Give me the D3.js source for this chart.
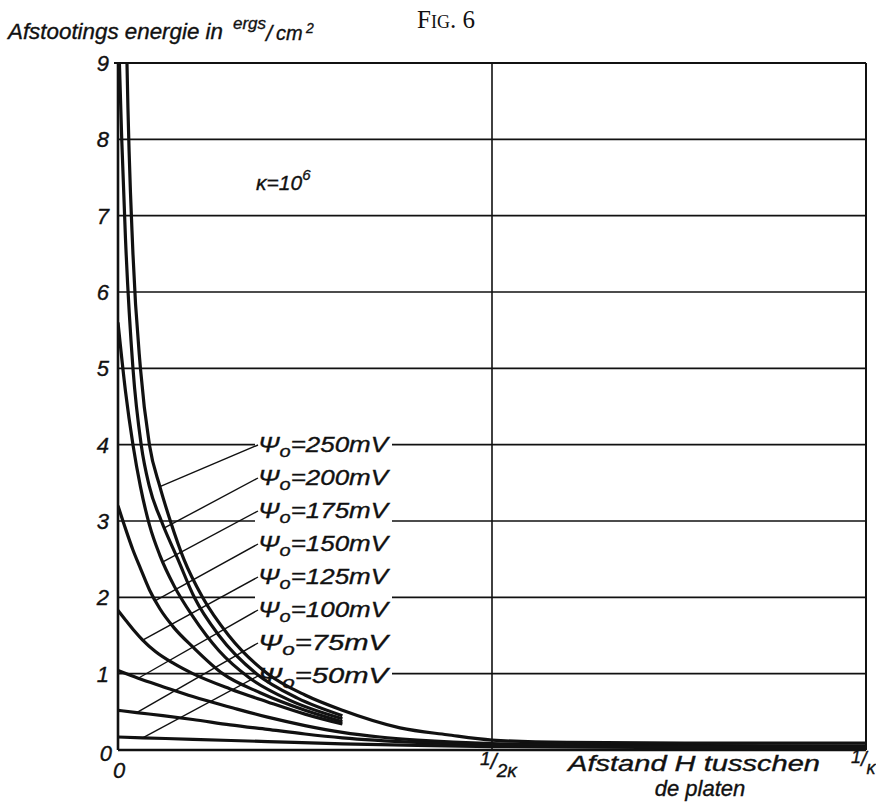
<!DOCTYPE html>
<html>
<head>
<meta charset="utf-8">
<title>Fig. 6</title>
<script src="https://d3js.org/d3.v7.min.js"></script>
<style>
  body { margin: 0; background: #fff; }
  svg text { fill: #111; }
  .it { font-family: "Liberation Sans", "DejaVu Sans", sans-serif; font-style: italic; stroke: #111; stroke-width: 0.35px; }
</style>
</head>
<body>
<div id="chart"></div>
<script>
// potentials (mV) of the curves, top curve first
var potentials = [250, 200, 175, 150, 125, 100, 75, 50];

// distance H in units of 1/kappa, energy in ergs/cm2
var h250 = [0, 0.005, 0.012, 0.02, 0.03, 0.042, 0.056, 0.07, 0.088, 0.113, 0.148, 0.2, 0.25, 0.3, 0.377, 0.44, 0.5, 0.6, 0.8, 1.0];
var e250 = [24, 14, 9, 6.5, 5, 4, 3.45, 3.0, 2.5, 2.0, 1.5, 1.0, 0.72, 0.52, 0.29, 0.2, 0.13, 0.1, 0.09, 0.09];
var h200 = [0, 0.005, 0.01, 0.02, 0.031, 0.042, 0.058, 0.08, 0.102, 0.135, 0.185, 0.24, 0.3];
var e200 = [9.6, 8.0, 6.7, 5.0, 4.0, 3.45, 3.0, 2.5, 2.0, 1.5, 1.0, 0.68, 0.45];
var h175 = [0, 0.01, 0.02, 0.03, 0.042, 0.056, 0.075, 0.1, 0.135, 0.175, 0.23, 0.3];
var e175 = [5.6, 4.7, 4.0, 3.45, 2.95, 2.55, 2.15, 1.75, 1.3, 0.95, 0.65, 0.41];
var h150 = [0, 0.01, 0.02, 0.03, 0.042, 0.056, 0.075, 0.1, 0.14, 0.19, 0.25, 0.3];
var e150 = [3.2, 2.9, 2.62, 2.38, 2.1, 1.85, 1.6, 1.35, 1.0, 0.75, 0.52, 0.37];
var h125 = [0, 0.012, 0.022, 0.033, 0.05, 0.075, 0.1, 0.15, 0.2, 0.25, 0.3];
var e125 = [1.83, 1.68, 1.56, 1.44, 1.29, 1.13, 1.0, 0.8, 0.63, 0.47, 0.34];
var h100 = [0, 0.027, 0.06, 0.1, 0.154, 0.2, 0.25, 0.3, 0.35, 0.4, 0.5, 0.7, 1.0];
var e100 = [1.04, 0.94, 0.83, 0.7, 0.55, 0.43, 0.32, 0.23, 0.17, 0.13, 0.085, 0.06, 0.05];
var h75 = [0, 0.025, 0.06, 0.1, 0.15, 0.2, 0.25, 0.3, 0.4, 0.5, 0.7, 1.0];
var e75 = [0.52, 0.49, 0.45, 0.4, 0.33, 0.27, 0.21, 0.16, 0.1, 0.07, 0.05, 0.04];
var h50 = [0, 0.033, 0.1, 0.2, 0.3, 0.4, 0.5, 0.7, 1.0];
var e50 = [0.17, 0.16, 0.14, 0.11, 0.08, 0.06, 0.045, 0.035, 0.03];

// where each label's leader line meets its curve (H in 1/kappa)
var leaderH = [0.056, 0.062, 0.06, 0.05, 0.033, 0.027, 0.025, 0.033];

var yTicks = [0, 1, 2, 3, 4, 5, 6, 7, 8, 9];
var gridValues = [1, 2, 3, 4, 5, 6, 7, 8];
var brokenGrid = [1, 2, 3, 4];   // grid lines that stop for the label column

var curveH = [h250, h200, h175, h150, h125, h100, h75, h50];
var curveE = [e250, e200, e175, e150, e125, e100, e75, e50];

var W = 876, H = 802;
var svg = d3.select("#chart").append("svg")
  .attr("width", W).attr("height", H);

var x = d3.scaleLinear().domain([0, 1]).range([118, 866]);
var y = d3.scaleLinear().domain([0, 9]).range([750, 63]);

svg.append("clipPath").attr("id", "plot")
  .append("rect").attr("x", x(0)).attr("y", y(9) - 1)
  .attr("width", x(1) - x(0)).attr("height", y(0) - y(9) + 3);

// grid
var labelLeft = 255, labelRight = 392;
var grid = svg.append("g").attr("stroke", "#111").attr("stroke-width", 1.6);
gridValues.forEach(function(v) {
  if (brokenGrid.indexOf(v) >= 0) {
    grid.append("line").attr("x1", x(0)).attr("x2", labelLeft)
      .attr("y1", y(v)).attr("y2", y(v));
    grid.append("line").attr("x1", labelRight).attr("x2", x(1))
      .attr("y1", y(v)).attr("y2", y(v));
  } else {
    grid.append("line").attr("x1", x(0)).attr("x2", x(1))
      .attr("y1", y(v)).attr("y2", y(v));
  }
});

// frame
var frame = svg.append("g").attr("stroke", "#111").attr("fill", "none");
frame.append("line").attr("x1", x(0) - 4).attr("x2", x(1)).attr("y1", y(9)).attr("y2", y(9)).attr("stroke-width", 1.8);
frame.append("line").attr("x1", x(1)).attr("x2", x(1)).attr("y1", y(9)).attr("y2", y(0)).attr("stroke-width", 2);
frame.append("line").attr("x1", x(0.5)).attr("x2", x(0.5)).attr("y1", y(9)).attr("y2", y(0)).attr("stroke-width", 1.6);
frame.append("line").attr("x1", x(0)).attr("x2", x(1)).attr("y1", y(0)).attr("y2", y(0)).attr("stroke-width", 2.6);
frame.append("line").attr("x1", x(0)).attr("x2", x(0)).attr("y1", y(9)).attr("y2", y(0)).attr("stroke-width", 2.6);

// curves
var line = d3.line()
  .x(function(d) { return x(d[0]); })
  .y(function(d) { return y(d[1]); })
  .curve(d3.curveMonotoneX);

var curves = potentials.map(function(p, i) {
  return curveH[i].map(function(h, j) { return [h, curveE[i][j]]; });
});

svg.append("g").attr("clip-path", "url(#plot)")
  .selectAll("path").data(curves).enter().append("path")
  .attr("d", line)
  .attr("fill", "none")
  .attr("stroke", "#111")
  .attr("stroke-width", 3.2)
  .attr("stroke-linejoin", "round");

function energyAt(i, h) {
  var hs = curveH[i], es = curveE[i];
  for (var k = 1; k < hs.length; k++) {
    if (h <= hs[k]) {
      var t = (h - hs[k - 1]) / (hs[k] - hs[k - 1]);
      return es[k - 1] + t * (es[k] - es[k - 1]);
    }
  }
  return es[es.length - 1];
}

// labels with leaders
var rowTop = 445, rowStep = 33;
potentials.forEach(function(p, i) {
  var cy = rowTop + i * rowStep;
  svg.append("line")
    .attr("x1", labelLeft + 3).attr("y1", cy)
    .attr("x2", x(leaderH[i])).attr("y2", y(energyAt(i, leaderH[i])))
    .attr("stroke", "#111").attr("stroke-width", 1.4);
  var t = svg.append("text").attr("class", "it")
    .attr("x", labelLeft + 3).attr("y", cy + 7)
    .attr("font-size", 22);
  t.append("tspan").text("\u03A8");
  t.append("tspan").attr("dy", 5).attr("font-size", 17).text("o");
  t.append("tspan").attr("dy", -5).text("=" + p + "mV");
  t.attr("textLength", 130).attr("lengthAdjust", "spacingAndGlyphs");
});

// y tick labels
svg.selectAll(".ytick").data(yTicks.filter(function(d) { return d > 0; }))
  .enter().append("text").attr("class", "it")
  .attr("x", 109).attr("y", function(d) { return y(d) + 8; })
  .attr("text-anchor", "end").attr("font-size", 22)
  .text(function(d) { return d; });
svg.append("text").attr("class", "it").attr("x", 112).attr("y", 761)
  .attr("text-anchor", "end").attr("font-size", 22).text(yTicks[0]);
svg.append("text").attr("class", "it").attr("x", 113).attr("y", 778)
  .attr("font-size", 22).text("0");

// x tick labels
var xt = svg.append("text").attr("class", "it").attr("x", x(0.5) - 12).attr("y", 765).attr("font-size", 19);
xt.append("tspan").text("1");
xt.append("tspan").attr("font-size", 22).attr("dy", 4).text("/");
xt.append("tspan").attr("dy", 8).text("2\u03BA");
var xr = svg.append("text").attr("class", "it").attr("x", 851).attr("y", 763).attr("font-size", 18);
xr.append("tspan").text("1");
xr.append("tspan").attr("font-size", 20).attr("dy", 3).text("/");
xr.append("tspan").attr("dy", 8).text("\u03BA");

// axis titles
var titleBase = 39;
svg.append("text").attr("class", "it").attr("x", 8).attr("y", titleBase)
  .attr("font-size", 22).attr("textLength", 215).attr("lengthAdjust", "spacingAndGlyphs")
  .text("Afstootings energie in");
svg.append("text").attr("class", "it").attr("x", 233).attr("y", titleBase - 10)
  .attr("font-size", 17).text("ergs");
svg.append("text").attr("class", "it").attr("x", 266).attr("y", titleBase + 2)
  .attr("font-size", 22).text("/");
svg.append("text").attr("class", "it").attr("x", 276).attr("y", titleBase + 1)
  .attr("font-size", 20).text("cm");
svg.append("text").attr("class", "it").attr("x", 306).attr("y", titleBase - 6)
  .attr("font-size", 14).text("2");

svg.append("text").attr("class", "it").attr("x", 694).attr("y", 771)
  .attr("text-anchor", "middle").attr("font-size", 22)
  .attr("textLength", 252).attr("lengthAdjust", "spacingAndGlyphs")
  .text("Afstand H tusschen");
svg.append("text").attr("class", "it").attr("x", 700).attr("y", 796)
  .attr("text-anchor", "middle").attr("font-size", 22).text("de platen");

var kt = svg.append("text").attr("class", "it").attr("x", 256).attr("y", 190).attr("font-size", 21);
kt.append("tspan").text("\u03BA=10");
kt.append("tspan").attr("dy", -10).attr("font-size", 15).text("6");

svg.append("text").attr("x", 446).attr("y", 28)
  .attr("text-anchor", "middle")
  .attr("font-family", "Liberation Serif, DejaVu Serif, serif")
  .attr("font-variant", "small-caps")
  .attr("font-size", 25).text("Fig. 6");
</script>
</body>
</html>
